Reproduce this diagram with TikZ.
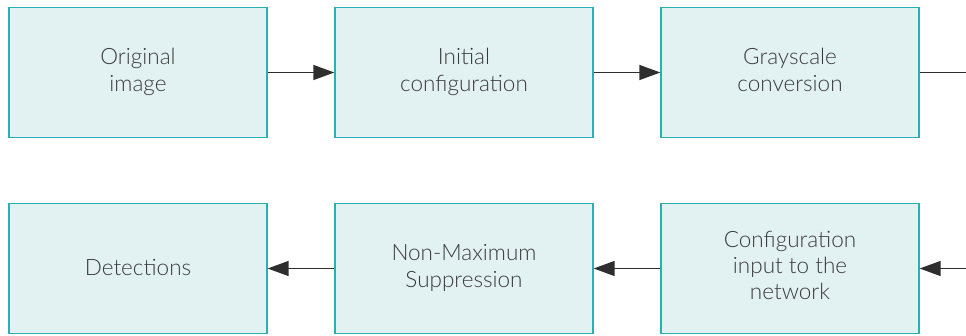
\documentclass[tikz,border=0pt]{standalone}
\usepackage{fontspec}
\setmainfont{Lato Light}
\usetikzlibrary{arrows.meta}
\definecolor{boxfill}{HTML}{E2F1F2}
\definecolor{boxline}{HTML}{2AAFB5}
\definecolor{txt}{HTML}{3A3A3A}
\definecolor{arr}{HTML}{2E2E2E}
\newcommand\mystrut{\rule[-6pt]{0pt}{26pt}}
\begin{document}
\begin{tikzpicture}[x=1pt,y=-1pt,
  stepbox/.style={draw=boxline,fill=boxfill,line width=1.3pt,minimum width=258pt,minimum height=130pt,
    inner sep=0pt,align=center,text=txt,font=\fontsize{22.5}{27}\selectfont,
    execute at begin node=\mystrut, execute at end node=\mystrut},
  conn/.style={draw=arr,line width=1.4pt,-{Triangle[length=21pt,width=15pt]}},
  plain/.style={draw=arr,line width=1.4pt}]
\useasboundingbox (0,0) rectangle (966,335);
\node[stepbox] (b1) at (138,72.5) {Original\\image};
\node[stepbox] (b2) at (464,72.5) {Initial\\configuration};
\node[stepbox] (b3) at (790,72.5) {Grayscale\\conversion};
\node[stepbox] (b4) at (138,268.5) {Detections};
\node[stepbox] (b5) at (464,268.5) {Non-Maximum\\Suppression};
\node[stepbox,font=\fontsize{22.5}{26}\selectfont] (b6) at (790,268.5) {Configuration\\input to the\\network};
\coordinate (e1) at (966,72.5);
\coordinate (e2) at (966,268.5);
\draw[conn] (b1) -- (b2);
\draw[conn] (b2) -- (b3);
\draw[plain] (b3.east) -- (e1);
\draw[conn] (e2) -- (b6.east);
\draw[conn] (b6) -- (b5);
\draw[conn] (b5) -- (b4);
\end{tikzpicture}
\end{document}
